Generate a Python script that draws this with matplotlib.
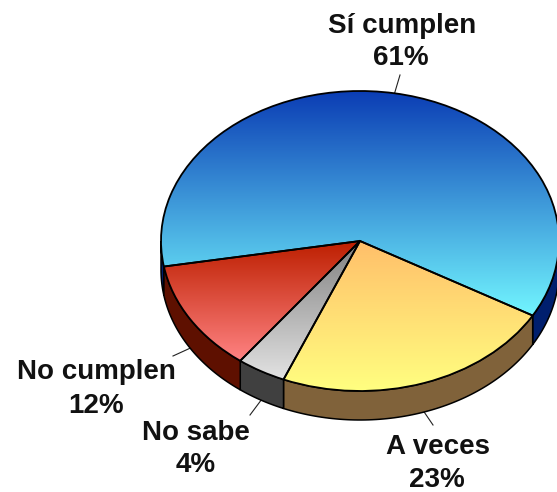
import numpy as np
import matplotlib
matplotlib.use("Agg")
import matplotlib.pyplot as plt
from matplotlib.colors import LinearSegmentedColormap
from matplotlib.patches import Polygon

plt.rcParams['font.family'] = ['Liberation Sans', 'DejaVu Sans']

labels = ["Sí cumplen", "A veces", "No sabe", "No cumplen"]
values = [61, 23, 4, 12]
top_colors = ["#0b3db4", "#ffbf6a", "#808080", "#bd1f00"]
bottom_colors = ["#72f6ff", "#ffff80", "#e2e2e2", "#ff8383"]
side_colors = ["#001f6e", "#80623a", "#404040", "#5e1000"]

W, H = 557, 492
cx, cy = 360, 241      # pie centre in pixels
rx, ry = 199, 150      # ellipse radii in pixels
depth = 29 / ry        # wall height, in units of ry
start_angle = 189.8

# label centres and leader ends in pixels
name_pos = [(402, 26), (438, 447), (196, 433), (96, 372)]
pct_pos = [(401, 58), (437, 480), (196, 465), (96, 406)]
leader_end = [(400, 75), (433, 425), (250, 415), (173, 356)]


def to_data(px, py):
    return (px - cx) / rx, (cy - py) / ry


fig = plt.figure(figsize=(W / 100, H / 100), dpi=100)
ax = fig.add_axes([0, 0, 1, 1])

wedges, _ = ax.pie(values, startangle=start_angle, counterclock=False, radius=1,
                   wedgeprops=dict(facecolor="none", edgecolor="black", linewidth=1.3, zorder=5))

for wedge, top, bottom, side in zip(wedges, top_colors, bottom_colors, side_colors):
    # side wall, only the part facing the viewer
    t1, t2 = wedge.theta1, wedge.theta2
    for lo, hi in [(max(t1, 180), min(t2, 360)), (max(t1, 540), min(t2, 720)),
                   (max(t1 + 360, 180), min(t2 + 360, 360)), (max(t1 - 360, 180), min(t2 - 360, 360))]:
        if hi <= lo:
            continue
        th = np.radians(np.linspace(lo, hi, 80))
        upper = np.column_stack([np.cos(th), np.sin(th)])
        lower = upper[::-1] - [0, depth]
        ax.add_patch(Polygon(np.vstack([upper, lower]), closed=True, facecolor=side,
                             edgecolor="black", linewidth=1.1, zorder=2))

    # vertical gradient on the top face
    box = wedge.get_path().get_extents()
    cmap = LinearSegmentedColormap.from_list("g", [bottom, top])
    im = ax.imshow(np.linspace(0, 1, 256)[:, None], cmap=cmap, origin="lower", aspect="auto",
                   extent=(-1.1, 1.1, box.y0, box.y1), zorder=3)
    im.set_clip_path(wedge)

ax.set_aspect("auto")
ax.set_xlim(to_data(0, 0)[0], to_data(W, 0)[0])
ax.set_ylim(to_data(0, H)[1], to_data(0, 0)[1])
ax.axis("off")

for wedge, name, value, npos, ppos, end in zip(wedges, labels, values, name_pos, pct_pos, leader_end):
    mid = np.radians((wedge.theta1 + wedge.theta2) / 2)
    x0, y0 = np.cos(mid), np.sin(mid)
    if y0 < 0:
        y0 -= depth
    x1, y1 = to_data(*end)
    ax.plot([x0, x1], [y0, y1], color="#222222", lw=0.8, zorder=1)
    ax.text(*to_data(*npos), name, ha="center", va="center", fontsize=20, fontweight="bold", color="#111111")
    ax.text(*to_data(*ppos), f"{value}%", ha="center", va="center", fontsize=20, fontweight="bold", color="#111111")

fig.savefig("out.png", dpi=100)
